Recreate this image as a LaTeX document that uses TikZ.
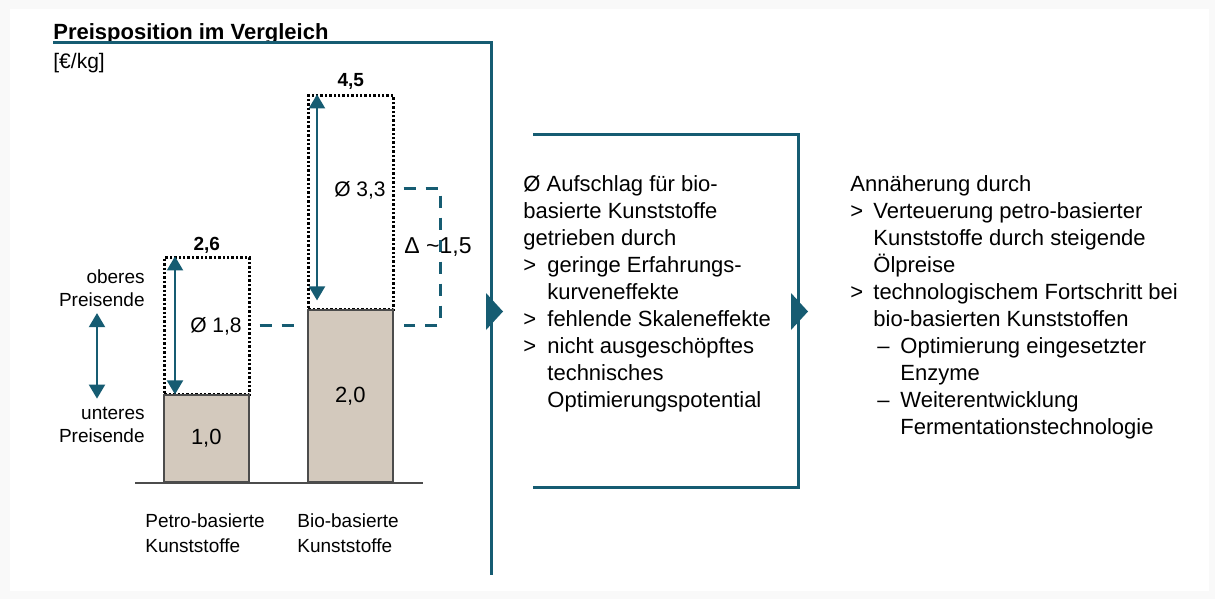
\documentclass[tikz,border=0pt]{standalone}
\usepackage{fontspec}
\setmainfont{Liberation Sans}
\usepackage{tikz}
\usetikzlibrary{
    arrows.meta,
    positioning,
    calc
}
\definecolor{petrol}{RGB}{22,92,114}
\definecolor{bargrey}{RGB}{211,201,189}
\tikzset{
    frameline/.style={
        draw=petrol,
        line width=1.5pt
    }
}
\tikzset{
    pricebar/.style={
        draw=black!70,
        fill=bargrey,
        line width=0.8pt,
        minimum width=42.5pt,
        inner sep=0pt,
        anchor=south west,
        font=\fontsize{11}{13}\selectfont
    }
}
\tikzset{
    rangebox/.style={
        draw=black,
        line width=1.3pt,
        dash pattern=on 1.2pt off 1pt,
        minimum width=42.5pt,
        inner sep=0pt,
        anchor=south west
    }
}
\tikzset{
    spanarrow/.style={
        draw=petrol,
        line width=1pt,
        {Triangle[width=8pt,length=7pt]}-{Triangle[width=8pt,length=7pt]}
    }
}
\tikzset{
    deltaline/.style={
        draw=petrol,
        line width=1.5pt,
        dash pattern=on 6pt off 5pt
    }
}
\tikzset{
    sidelabel/.style={
        font=\fontsize{9.5}{11.75}\selectfont,
        inner sep=0pt
    }
}
\tikzset{
    textblock/.style={
        font=\fontsize{11}{13.5}\selectfont,
        align=left,
        inner sep=0pt,
        anchor=north west
    }
}
\newcommand{\gtmark}{\makebox[12pt][l]{>}}
\newcommand{\gtrest}{\hspace*{12pt}}
\newcommand{\gtmarkR}{\makebox[11.5pt][l]{>}}
\newcommand{\gtrestR}{\hspace*{11.5pt}}
\newcommand{\submark}{\hspace*{13.5pt}\makebox[11.5pt][l]{--}}
\newcommand{\subrest}{\hspace*{25pt}}

\begin{document}
\begin{tikzpicture}[
    x=0.5pt,
    y=-0.5pt,
    >=Latex
]

% ------------------------------------------------------------
% Page frame
% ------------------------------------------------------------

\fill[gray!5] (0,0) rectangle (1215,599);
\fill[white] (10,9) rectangle (1209,591);
\useasboundingbox (0,0) rectangle (1215,599);

% ------------------------------------------------------------
% Heading
% ------------------------------------------------------------

\node[
    anchor=base west,
    inner sep=0pt,
    font=\bfseries\fontsize{11}{13}\selectfont
] (title) at (53,40) {Preisposition im Vergleich};

\node[
    anchor=base west,
    inner sep=0pt,
    font=\fontsize{10.5}{13}\selectfont
] (unit) at (53,69) {[€/kg]};

\draw[frameline]
    (53,43) -- (491,43) -- (491,575);

\fill[petrol] (486,293) -- (503,311.5) -- (486,330) -- cycle;

% ------------------------------------------------------------
% Price ranges
% ------------------------------------------------------------

\node[rangebox, minimum height=68.5pt] (petroRange) at (163,396) {};
\node[rangebox, minimum height=107pt] (bioRange) at (307,311) {};

\node[pricebar, minimum height=43.5pt] (petroBar) at (163,483) {1,0};
\node[pricebar, minimum height=86pt] (bioBar) at (307,483) {2,0};

\draw[draw=black!70, line width=1.2pt]
    ($(petroBar.south west)+(-28,0)$) -- ($(bioBar.south east)+(29,0)$);

\node[
    anchor=base,
    inner sep=0pt,
    font=\bfseries\fontsize{9.5}{11}\selectfont
] (petroMax) at ($(petroRange.north)+(0,-6)$) {2,6};

\node[
    anchor=base,
    inner sep=0pt,
    font=\bfseries\fontsize{9.5}{11}\selectfont
] (bioMax) at ($(bioRange.north)+(0,-8)$) {4,5};

\draw[spanarrow]
    ($(petroRange.north west)+(12,0)$) -- ($(petroBar.north west)+(12,0)$);

\draw[spanarrow]
    ($(bioRange.north west)+(10,0)$) -- ($(bioBar.north west)+(10,-9)$);

% ------------------------------------------------------------
% Averages and difference
% ------------------------------------------------------------

\node[font=\fontsize{10.5}{13}\selectfont, inner sep=0pt]
    (avgPetro) at (216,326) {Ø 1,8};

\node[font=\fontsize{10.5}{13}\selectfont, inner sep=0pt]
    (avgBio) at (360,190) {Ø 3,3};

\coordinate (deltaTop) at (440,188);
\coordinate (deltaBot) at (440,325);

\draw[deltaline]
    ($(petroRange.east |- deltaBot)+(9,0)$) -- ($(bioBar.west |- deltaBot)+(-8,0)$);

\draw[deltaline]
    ($(bioRange.east |- deltaTop)+(9,0)$) -- (deltaTop) -- (deltaBot)
    -- ($(bioRange.east |- deltaBot)+(9,0)$);

\node[font=\fontsize{11.5}{13}\selectfont, inner sep=0pt]
    (delta) at (438,247) {Δ \textasciitilde1,5};

% ------------------------------------------------------------
% Range legend and categories
% ------------------------------------------------------------

\node[sidelabel, anchor=east, align=right] (upperEnd) at (145,288)
    {oberes\\Preisende};

\node[sidelabel, anchor=east, align=right] (lowerEnd) at (145,425)
    {unteres\\Preisende};

\coordinate (rangeX) at (97,0);

\draw[spanarrow]
    ([yshift=-3pt]upperEnd.south -| rangeX) -- ([yshift=4pt]lowerEnd.north -| rangeX);

\node[
    sidelabel,
    font=\fontsize{9.5}{12.5}\selectfont,
    anchor=west,
    align=left
] (petroName) at (145,533) {Petro-basierte\\Kunststoffe};

\node[
    sidelabel,
    font=\fontsize{9.5}{12.5}\selectfont,
    anchor=west,
    align=left
] (bioName) at (297,533) {Bio-basierte\\Kunststoffe};

% ------------------------------------------------------------
% Drivers of the premium
% ------------------------------------------------------------

\draw[frameline]
    (533,135) -| (798,487) -- (533,487);

\fill[petrol] (791,293) -- (808,311.5) -- (791,330) -- cycle;

\node[textblock] (drivers) at (523,175) {
    Ø Aufschlag für bio-\\
    basierte Kunststoffe\\
    getrieben durch\\
    \gtmark geringe Erfahrungs-\\
    \gtrest kurveneffekte\\
    \gtmark fehlende Skaleneffekte\\
    \gtmark nicht ausgeschöpftes\\
    \gtrest technisches\\
    \gtrest Optimierungspotential
};

% ------------------------------------------------------------
% Convergence
% ------------------------------------------------------------

\node[textblock] (convergence) at (850,175) {
    Annäherung durch\\
    \gtmarkR Verteuerung petro-basierter\\
    \gtrestR Kunststoffe durch steigende\\
    \gtrestR Ölpreise\\
    \gtmarkR technologischem Fortschritt bei\\
    \gtrestR bio-basierten Kunststoffen\\
    \submark Optimierung eingesetzter\\
    \subrest Enzyme\\
    \submark Weiterentwicklung\\
    \subrest Fermentationstechnologie
};

\end{tikzpicture}
\end{document}
